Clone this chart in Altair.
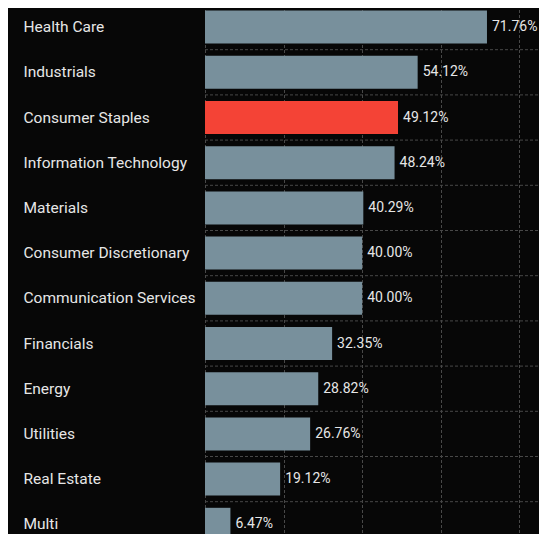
import altair as alt
import pandas as pd

sectors = ["Health Care", "Industrials", "Consumer Staples", "Information Technology",
           "Materials", "Consumer Discretionary", "Communication Services", "Financials",
           "Energy", "Utilities", "Real Estate", "Multi"]
values = [71.76, 54.12, 49.12, 48.24, 40.29, 40.00, 40.00, 32.35, 28.82, 26.76, 19.12, 6.47]
highlight = "Consumer Staples"
x_ticks = [0, 20, 40, 60, 80]

df = pd.DataFrame({"sector": sectors, "value": values})
df["hl"] = df["sector"] == highlight

W, H = 334, 526
STEP = 45.2
FONT = "Roboto"
GRID = "#484848"

y_enc = alt.Y("sector:N", sort=sectors,
              scale=alt.Scale(paddingInner=0.27, paddingOuter=0.135, range=[-3.5, -3.5 + 12 * STEP]),
              axis=alt.Axis(title=None, labelAlign="left", labelPadding=182, ticks=False,
                            domain=False, grid=False, labelColor="#e6e6e6",
                            labelFont=FONT, labelFontSize=15.5, labelBaseline="middle"))
x_enc = alt.X("value:Q", scale=alt.Scale(domain=[0, 85], nice=False, zero=True),
              axis=alt.Axis(title=None, values=x_ticks, labels=False, ticks=False,
                            domain=False, grid=True, gridColor=GRID,
                            gridDash=[3, 2], gridWidth=1))

base = alt.Chart(df)

hrules = base.mark_rule(yOffset=STEP / 2, color=GRID, strokeDash=[3, 2], strokeWidth=1).encode(
    y=y_enc, x=alt.value(0), x2=alt.value(W))

bars = base.mark_bar().encode(
    y=y_enc, x=x_enc,
    color=alt.condition("datum.hl", alt.value("#f44336"), alt.value("#78909c")))

labels = base.transform_calculate(
    lbl="format(datum.value, '.2f') + '%'"
).mark_text(align="left", baseline="middle", dx=5, font=FONT, fontSize=14,
            color="#e6e6e6").encode(y=y_enc, x="value:Q", text="lbl:N")

chart = alt.layer(hrules, bars, labels).properties(
    width=W, height=H, background="#070707",
    autosize=alt.AutoSizeParams(type="none"),
    padding={"left": 197, "top": 0, "right": 0, "bottom": 0}
).configure_view(strokeWidth=0)

chart.save("out.html", embed_options={"renderer": "svg", "actions": False})
